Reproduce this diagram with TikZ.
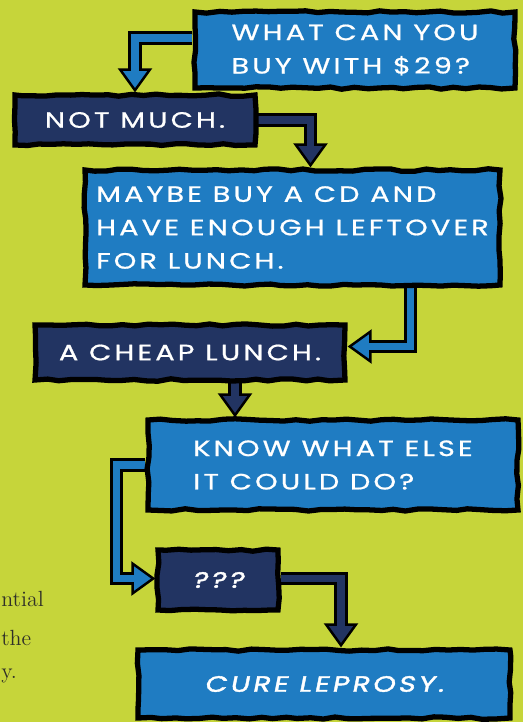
\documentclass[tikz,border=0pt]{standalone}
\usepackage{fontspec}
\newfontfamily\comic[FakeStretch=1.3,LetterSpace=14,FakeBold=0.8]{Poppins}
\newfontfamily\comicit[FakeStretch=1.3,LetterSpace=14,FakeSlant=0.2,FakeBold=1.8]{Poppins}
\usetikzlibrary{arrows.meta,positioning,backgrounds,decorations.pathmorphing}

\definecolor{lime}{RGB}{198,213,58}
\definecolor{skyblue}{RGB}{31,124,194}
\definecolor{navy}{RGB}{34,52,98}
\definecolor{inkgray}{RGB}{48,48,40}

\begin{document}
\begin{tikzpicture}[
  box/.style={draw=black,line width=3pt,text=white,inner sep=0pt,align=left,
    font=\comic\fontsize{12.6}{19}\selectfont,
    decorate,decoration={random steps,segment length=7pt,amplitude=0.7pt}},
  lt/.style={box,fill=skyblue},
  dk/.style={box,fill=navy},
  pipe/.style={draw=black,line width=7.5pt,
    -{Triangle[length=4.8mm,width=6.8mm,line width=1.4pt,fill=#1]},
    postaction={draw=#1,line width=4.2pt,-,shorten >=3.8mm}},
  side/.style={text=inkgray,font=\fontsize{12.5}{15}\selectfont,anchor=west,inner sep=0pt}]

 \begin{scope}[on background layer]
  \fill[lime] (0,0) rectangle (10.46,-14.44);
 \end{scope}
 \useasboundingbox (0,0) rectangle (10.46,-14.44);
 \clip (0,0) rectangle (10.46,-14.44);

 % ---- text at the left margin ----
 \node[side] (t1) at (0.02,-11.98) {ntial};
 \node[side] (t2) at (0.02,-12.76) {the};
 \node[side] (t3) at (0.02,-13.52) {y.};

 % ---- boxes ----
 \node[lt,minimum width=6.4cm,minimum height=1.52cm] (ask) at (7.10,-1.00)
   {WHAT CAN YOU\\BUY WITH \$29?};
 \node[dk,minimum width=4.8cm,minimum height=1.0cm] (much) at (2.70,-2.40)
   {NOT MUCH.};
 \node[lt,minimum width=8.3cm,minimum height=2.3cm] (cd) at (5.85,-4.55)
   {MAYBE BUY A CD AND\\HAVE ENOUGH LEFTOVER\\FOR LUNCH.};
 \node[dk,minimum width=6.2cm,minimum height=1.1cm] (lunch) at (3.80,-7.05)
   {A CHEAP LUNCH.};
 \node[lt,minimum width=7.4cm,minimum height=1.8cm] (else) at (6.66,-9.30)
   {KNOW WHAT ELSE\\IT COULD DO?};
 \node[dk,minimum width=2.4cm,minimum height=1.2cm,font=\comicit\fontsize{12.6}{19}\selectfont] (qq) at (4.36,-11.60)
   {???};
 \node[lt,minimum width=7.44cm,minimum height=1.36cm,font=\comicit\fontsize{12.6}{19}\selectfont] (cure) at (6.48,-13.68)
   {CURE LEPROSY.};

 % ---- connectors, behind the boxes ----
 \begin{scope}[on background layer]
  \draw[pipe=skyblue] ([yshift=2.4mm]ask.west) -| (much.north);
  \draw[pipe=navy] (much.east) -| ([xshift=3.6mm]cd.north);
  \draw[pipe=skyblue] ([xshift=23.6mm]cd.south) |- ([yshift=1.2mm]lunch.east);
  \draw[pipe=navy] ([xshift=9mm]lunch.south) -- ([xshift=9mm]lunch.south |- else.north);
  \draw[pipe=skyblue] (else.west) -- ++(-0.58,0) |- ([yshift=0.3mm]qq.west);
  \draw[pipe=navy] ([yshift=0.3mm]qq.east) -| ([xshift=3.4mm]cure.north);
 \end{scope}
\end{tikzpicture}
\end{document}
